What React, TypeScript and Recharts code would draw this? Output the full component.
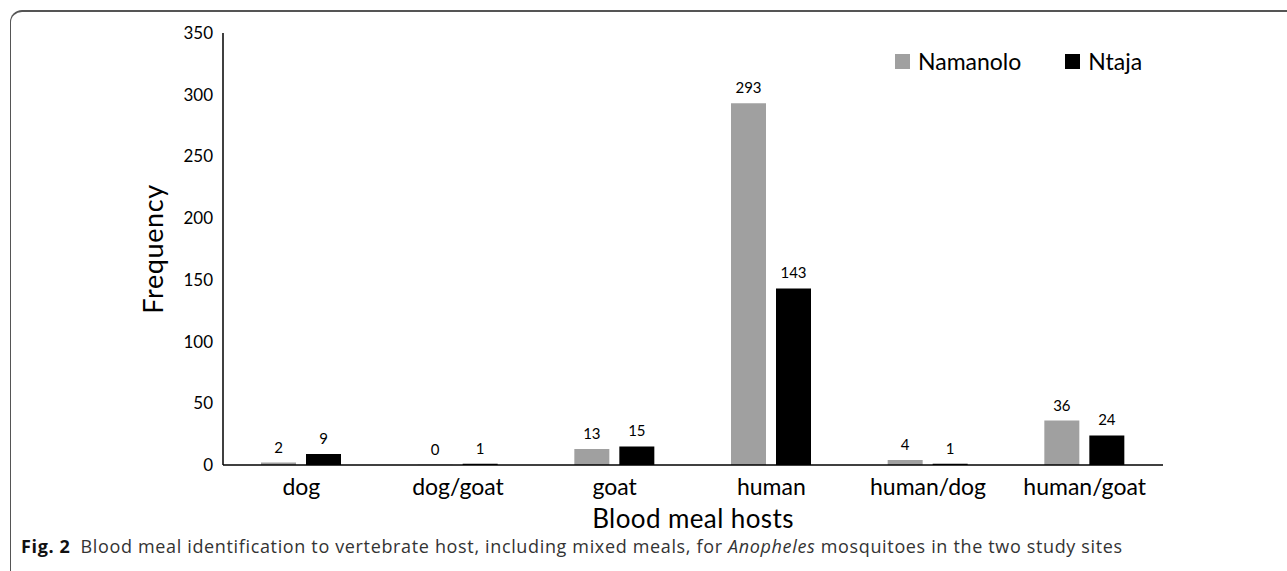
import React from "react";
import { BarChart, Bar, XAxis, YAxis, LabelList, Label } from "recharts";

const hosts = ["dog", "dog/goat", "goat", "human", "human/dog", "human/goat"];
const namanolo = [2, 0, 13, 293, 4, 36];
const ntaja = [9, 1, 15, 143, 1, 24];
const yTicks = [0, 50, 100, 150, 200, 250, 300, 350];

const data = hosts.map((h, i) => ({ host: h, Namanolo: namanolo[i], Ntaja: ntaja[i] }));

const FONT = "Lato, 'Open Sans', sans-serif";

// zero bars still need their "0" label, so give them a hairline height
const tinyForZero = (v: any) => (v === 0 ? 0.3 : 0);

export default function App() {
  return (
    <div style={{ position: "absolute", left: 0, top: 0, width: 1287, height: 571, background: "#fff", overflow: "hidden" }}>
      <div
        style={{
          position: "absolute",
          left: 10,
          top: 10,
          width: 1300,
          height: 580,
          borderTop: "2px solid #555",
          borderLeft: "1.5px solid #555",
          borderTopLeftRadius: 12,
        }}
      />
      <div style={{ position: "absolute", left: 0, top: 0 }}>
        <BarChart
          width={1287}
          height={571}
          data={data}
          margin={{ top: 33, right: 124, left: 163, bottom: 66 }}
          barSize={35}
          barGap={10}
        >
          <YAxis
            width={60}
            domain={[0, 350]}
            ticks={yTicks}
            interval={0}
            tickLine={false}
            tickMargin={4}
            axisLine={{ stroke: "#000", strokeWidth: 1.5 }}
            tick={{ fill: "#000", fontSize: 17, fontFamily: FONT }}
          >
            <Label
              content={({ viewBox }: any) => {
                const cx = viewBox.x;
                const cy = viewBox.y + viewBox.height / 2;
                return (
                  <text
                    x={cx}
                    y={cy}
                    transform={`rotate(-90 ${cx} ${cy})`}
                    textAnchor="middle"
                    fontSize={27}
                    letterSpacing={0.6}
                    fontFamily={FONT}
                    fill="#000"
                  >
                    Frequency
                  </text>
                );
              }}
            />
          </YAxis>
          <XAxis
            dataKey="host"
            height={40}
            tickLine={false}
            tickMargin={8}
            axisLine={{ stroke: "#000", strokeWidth: 1.5 }}
            tick={{ fill: "#000", fontSize: 23, fontFamily: FONT }}
          >
            <Label
              value="Blood meal hosts"
              position="bottom"
              offset={5}
              style={{ fontSize: 26, letterSpacing: 0.4, fontFamily: FONT, fill: "#000" }}
            />
          </XAxis>
          <Bar dataKey="Namanolo" fill="#a0a0a0" minPointSize={tinyForZero} isAnimationActive={false}>
            <LabelList dataKey="Namanolo" position="top" offset={10} style={{ fontSize: 15, fontFamily: FONT, fill: "#000" }} />
          </Bar>
          <Bar dataKey="Ntaja" fill="#000" minPointSize={tinyForZero} isAnimationActive={false}>
            <LabelList dataKey="Ntaja" position="top" offset={10} style={{ fontSize: 15, fontFamily: FONT, fill: "#000" }} />
          </Bar>
        </BarChart>
      </div>
      <div
        style={{
          position: "absolute",
          left: 895,
          top: 47,
          display: "flex",
          alignItems: "center",
          fontFamily: FONT,
          fontSize: 23,
          color: "#000",
          whiteSpace: "nowrap",
        }}
      >
        <span style={{ width: 15, height: 15, background: "#a0a0a0", display: "inline-block", marginRight: 8 }} />
        <span style={{ marginRight: 44 }}>Namanolo</span>
        <span style={{ width: 15, height: 15, background: "#000", display: "inline-block", marginRight: 8 }} />
        <span>Ntaja</span>
      </div>
      <div
        style={{
          position: "absolute",
          left: 21,
          top: 537,
          lineHeight: "18px",
          fontFamily: "'Open Sans', sans-serif",
          fontSize: 18,
          color: "#333",
          whiteSpace: "nowrap",
          letterSpacing: 0.65,
        }}
      >
        <b style={{ color: "#111", marginRight: 10 }}>Fig. 2</b>
        Blood meal identification to vertebrate host, including mixed meals, for <i>Anopheles</i> mosquitoes in the two study sites
      </div>
    </div>
  );
}
